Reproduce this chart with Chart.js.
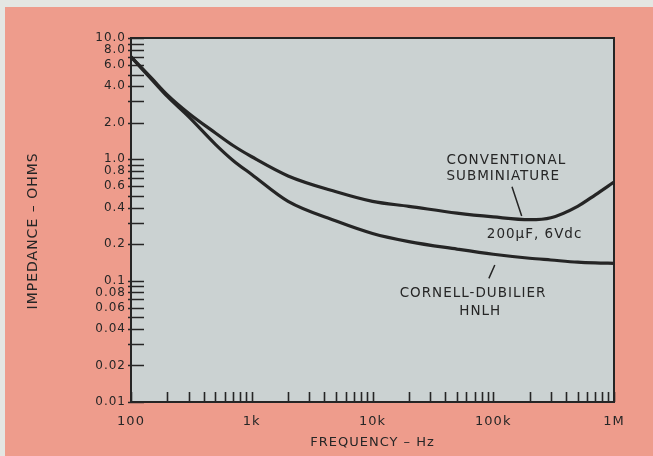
<!DOCTYPE html>
<html>
<head>
<meta charset="utf-8">
<script src="https://cdn.jsdelivr.net/npm/chart.js@4.4.1/dist/chart.umd.min.js"></script>
<style>
  html, body { margin: 0; padding: 0; background: #e4e6e2; }
  #wrap { position: relative; width: 653px; height: 456px; overflow: hidden; }
  #paper { position: absolute; left: 5px; top: 7px; right: 0; bottom: 0; background: #ee9c8c; }
  canvas { position: absolute; left: 0; top: 0; }
</style>
</head>
<body>
<div id="wrap">
  <div id="paper"></div>
  <canvas id="myChart" width="653" height="456"></canvas>
</div>
<script>
// data (Hz, ohms)
const freqs = [100, 150, 200, 300, 500, 700, 1000, 2000, 5000, 10000, 20000, 50000, 100000, 200000, 300000, 500000, 700000, 1000000];
const conventional = [7.0, 4.6, 3.4, 2.4, 1.65, 1.3, 1.05, 0.73, 0.54, 0.45, 0.41, 0.36, 0.335, 0.318, 0.33, 0.41, 0.51, 0.65];
const cornell = [7.0, 4.5, 3.3, 2.25, 1.33, 0.98, 0.75, 0.45, 0.31, 0.245, 0.21, 0.182, 0.165, 0.153, 0.148, 0.142, 0.14, 0.139];

// ticks
const mantissas = [1, 2, 3, 4, 5, 6, 7, 8, 9];
const xDecades = [100, 1000, 10000, 100000];
const yDecades = [0.01, 0.1, 1];
const xLabelValues = [100, 1000, 10000, 100000, 1000000];
const xLabelTexts = ['100', '1k', '10k', '100k', '1M'];
const yLabelValues = [10, 8, 6, 4, 2, 1, 0.8, 0.6, 0.4, 0.2, 0.1, 0.08, 0.06, 0.04, 0.02, 0.01];
const yLabelTexts = ['10.0', '8.0', '6.0', '4.0', '2.0', '1.0', '0.8', '0.6', '0.4', '0.2', '0.1', '0.08', '0.06', '0.04', '0.02', '0.01'];

// annotation texts, placed in data coordinates
const notes = [
  { text: 'CONVENTIONAL', f: 41000, z: 0.97, align: 'left' },
  { text: 'SUBMINIATURE', f: 41000, z: 0.72, align: 'left' },
  { text: '200\u00b5F, 6Vdc', f: 220000, z: 0.238, align: 'center' },
  { text: 'CORNELL-DUBILIER', f: 68000, z: 0.0786, align: 'center' },
  { text: 'HNLH', f: 78000, z: 0.0554, align: 'center' }
];
const pointers = [
  { f1: 143000, z1: 0.594, f2: 172000, z2: 0.341 },
  { f1: 92000, z1: 0.1045, f2: 103000, z2: 0.1345 }
];

const ink = '#252525';
const textInk = '#262626';
const xTicks = xDecades.flatMap(d => mantissas.map(m => +(m * d).toPrecision(6))).concat([1000000]);
const yTicks = yDecades.flatMap(d => mantissas.map(m => +(m * d).toPrecision(6))).concat([10]);

function labelFor(values, texts, v) {
  const i = values.findIndex(a => Math.abs(a - v) / a < 1e-6);
  return i < 0 ? '' : texts[i];
}

const plotPlugin = {
  id: 'plotPlugin',
  beforeDraw(chart) {
    const { ctx, chartArea: a } = chart;
    ctx.letterSpacing = '1px';
    ctx.save();
    ctx.fillStyle = '#cbd2d2';
    ctx.fillRect(a.left, a.top, a.right - a.left, a.bottom - a.top);
    ctx.restore();
  },
  afterDraw(chart) {
    const { ctx, chartArea: a, scales } = chart;
    const xs = scales.x, ys = scales.y;
    ctx.save();
    ctx.strokeStyle = ink;
    ctx.lineWidth = 1.6;
    ctx.beginPath();
    xTicks.forEach(v => {
      const px = Math.round(xs.getPixelForValue(v)) + 0.5;
      ctx.moveTo(px, a.bottom);
      ctx.lineTo(px, a.bottom - 10);
    });
    yTicks.forEach(v => {
      const py = Math.round(ys.getPixelForValue(v)) + 0.5;
      ctx.moveTo(a.left - 3, py);
      ctx.lineTo(a.left + 13, py);
    });
    ctx.stroke();

    ctx.lineWidth = 2;
    ctx.strokeRect(a.left, a.top, a.right - a.left, a.bottom - a.top);

    ctx.lineWidth = 1.5;
    ctx.beginPath();
    pointers.forEach(p => {
      ctx.moveTo(xs.getPixelForValue(p.f1), ys.getPixelForValue(p.z1));
      ctx.lineTo(xs.getPixelForValue(p.f2), ys.getPixelForValue(p.z2));
    });
    ctx.stroke();

    ctx.fillStyle = textInk;
    ctx.font = '13.5px "DejaVu Sans"';
    ctx.textBaseline = 'middle';
    notes.forEach(n => {
      ctx.textAlign = n.align;
      ctx.fillText(n.text, xs.getPixelForValue(n.f), ys.getPixelForValue(n.z));
    });
    ctx.restore();
    ctx.letterSpacing = '0px';
  }
};

const ctx1 = document.getElementById('myChart').getContext('2d');
const myChart = new Chart(ctx1, {
  type: 'line',
  data: {
    datasets: [{
      label: 'Conventional subminiature',
      data: freqs.map((f, i) => ({ x: f, y: conventional[i] })),
      borderColor: ink,
      borderWidth: 3.2,
      pointRadius: 0,
      cubicInterpolationMode: 'monotone',
      fill: false
    }, {
      label: 'Cornell-Dubilier HNLH',
      data: freqs.map((f, i) => ({ x: f, y: cornell[i] })),
      borderColor: ink,
      borderWidth: 3.2,
      pointRadius: 0,
      cubicInterpolationMode: 'monotone',
      fill: false
    }]
  },
  options: {
    responsive: false,
    animation: false,
    layout: { padding: { left: 0, top: 38, right: 39, bottom: 0 } },
    plugins: {
      legend: { display: false },
      tooltip: { enabled: false }
    },
    scales: {
      x: {
        type: 'logarithmic',
        min: 100,
        max: 1000000,
        afterFit(scale) { scale.height = 54; },
        afterBuildTicks(scale) { scale.ticks = xTicks.map(v => ({ value: v })); },
        grid: { display: false, drawTicks: false },
        border: { display: false },
        ticks: {
          autoSkip: false,
          maxRotation: 0,
          padding: 12,
          color: textInk,
          font: { family: 'DejaVu Sans', size: 13 },
          callback: v => labelFor(xLabelValues, xLabelTexts, v)
        },
        title: {
          display: true,
          text: 'FREQUENCY \u2013 Hz',
          color: textInk,
          font: { family: 'DejaVu Sans', size: 13 },
          padding: { top: 0, bottom: 6 }
        }
      },
      y: {
        type: 'logarithmic',
        min: 0.01,
        max: 10,
        afterFit(scale) { scale.width = 131; },
        afterBuildTicks(scale) { scale.ticks = yTicks.map(v => ({ value: v })); },
        grid: { display: false, drawTicks: false },
        border: { display: false },
        ticks: {
          autoSkip: false,
          padding: 5,
          color: textInk,
          font: { family: 'DejaVu Sans', size: 12 },
          callback: v => labelFor(yLabelValues, yLabelTexts, v)
        },
        title: {
          display: true,
          // trailing spaces nudge the rotated title down a little
          text: 'IMPEDANCE \u2013 OHMS\u00a0\u00a0\u00a0\u00a0',
          color: textInk,
          font: { family: 'DejaVu Sans', size: 14 },
          padding: { top: 25, bottom: 0 }
        }
      }
    }
  },
  plugins: [plotPlugin]
});
</script>
</body>
</html>
